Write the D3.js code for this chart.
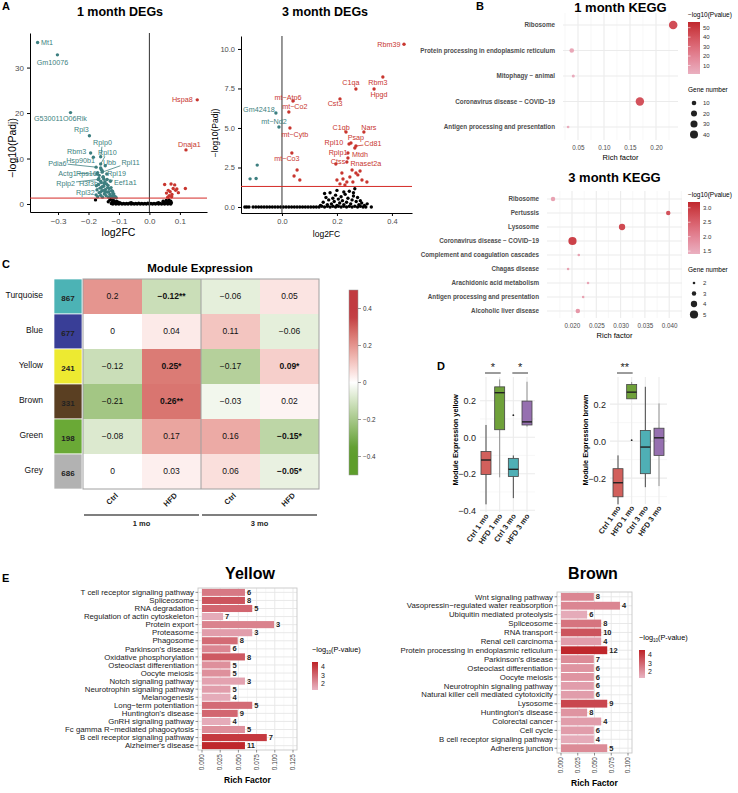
<!DOCTYPE html>
<html>
<head>
<meta charset="utf-8">
<title>Figure</title>
<script src="https://cdn.jsdelivr.net/npm/d3@7/dist/d3.min.js"></script>
<style>
  body { margin: 0; background: #fff; }
  svg text { font-family: "Liberation Sans", Arial, Helvetica, sans-serif; }
</style>
</head>
<body>
<div id="figure"></div>
<script>
// ---------------- data ----------------
// A: volcano plots, [log2FC, -log10(Padj)]
var deg1Genes = [
    {gene: "Mt1", fc: -0.367, p: 35.5},
    {gene: "Gm10076", fc: -0.302, p: 32.8},
    {gene: "G530011O06Rik", fc: -0.259, p: 20.1},
    {gene: "Rpl3", fc: -0.197, p: 15.0},
    {gene: "Rbm3", fc: -0.193, p: 11.2},
    {gene: "Rplp0", fc: -0.16, p: 10.4},
    {gene: "Hsp90b1", fc: -0.184, p: 10.3},
    {gene: "Rpl10", fc: -0.16, p: 8.8},
    {gene: "Pdia6", fc: -0.175, p: 8.1},
    {gene: "Ubb", fc: -0.158, p: 7.6},
    {gene: "Rpl11", fc: -0.155, p: 7.0},
    {gene: "Actg1", fc: -0.172, p: 6.6},
    {gene: "Rps16", fc: -0.165, p: 6.3},
    {gene: "Rpl19", fc: -0.152, p: 6.0},
    {gene: "Rplp2", fc: -0.168, p: 5.4},
    {gene: "H3f3b", fc: -0.16, p: 5.0},
    {gene: "Eef1a1", fc: -0.15, p: 5.5},
    {gene: "Rpl32", fc: -0.158, p: 3.6},
    {gene: "Hspa8", fc: 0.157, p: 22.9},
    {gene: "Dnaja1", fc: 0.12, p: 11.9}
];
// where the repelled labels sit (same units)
var deg1LabelAt = {
    Mt1: [-0.336, 35.6], Gm10076: [-0.318, 31.2], G530011O06Rik: [-0.292, 18.9], Rpl3: [-0.223, 16.3],
    Rplp0: [-0.154, 13.6], Rbm3: [-0.239, 11.6], Rpl10: [-0.138, 11.4], Hsp90b1: [-0.226, 9.5],
    Pdia6: [-0.302, 9.0], Ubb: [-0.131, 9.2], Rpl11: [-0.062, 9.2], Actg1: [-0.269, 6.8],
    Rps16: [-0.207, 6.8], Rpl19: [-0.108, 6.8], Rplp2: [-0.275, 4.6], H3f3b: [-0.2, 4.6],
    Eef1a1: [-0.079, 4.8], Rpl32: [-0.21, 2.6], Hspa8: [0.108, 22.9], Dnaja1: [0.131, 13.0]
};
var deg1Down = [[-0.175,2.0],[-0.172,3.1],[-0.17,1.6],[-0.167,4.3],[-0.165,2.5],[-0.162,3.5],[-0.16,1.9],[-0.158,4.7],
    [-0.156,2.9],[-0.154,1.5],[-0.152,5.9],[-0.15,3.9],[-0.148,2.2],[-0.146,4.9],[-0.144,3.2],[-0.142,1.8],[-0.14,6.6],
    [-0.138,2.6],[-0.136,4.1],[-0.134,1.5],[-0.132,3.4],[-0.13,2.1],[-0.128,5.0],[-0.126,1.7],[-0.124,2.9],[-0.122,1.5],
    [-0.12,2.3],[-0.118,1.9],[-0.115,1.4],[-0.112,1.6],[-0.109,1.4],[-0.155,7.3],[-0.16,7.9],[-0.145,8.4],[-0.166,5.6],
    [-0.17,6.9],[-0.174,4.0],[-0.15,3.0],[-0.145,2.6],[-0.141,4.4],[-0.137,3.6],[-0.133,2.7],[-0.155,3.8],[-0.149,4.5],
    [-0.161,2.6],[-0.139,5.4],[-0.126,3.6],[-0.121,2.8],[-0.117,2.2]];
var deg1Up = [[0.05,4.3],[0.056,2.4],[0.062,3.0],[0.065,1.8],[0.068,2.7],[0.071,4.4],[0.074,2.1],[0.078,3.4],
    [0.083,4.2],[0.086,3.0],[0.09,3.3],[0.095,2.5],[0.118,3.4],[0.06,1.5],[0.073,1.6]];
var deg1Ns = [[-0.125,0.1],[-0.12,0.0],[-0.115,0.2],[-0.11,0.0],[-0.105,0.1],[-0.1,0.0],[-0.095,0.2],[-0.09,0.0],
    [-0.085,0.1],[-0.08,0.0],[-0.075,0.1],[-0.07,0.0],[-0.065,0.2],[-0.06,0.0],[-0.055,0.1],[-0.05,0.0],[-0.045,0.1],
    [-0.04,0.0],[-0.035,0.2],[-0.03,0.0],[-0.025,0.1],[-0.02,0.0],[-0.015,0.1],[-0.01,0.0],[-0.005,0.2],[0.0,0.0],
    [0.005,0.1],[0.01,0.0],[0.015,0.1],[0.02,0.0],[0.025,0.2],[0.03,0.0],[0.035,0.1],[0.04,0.0],[0.045,0.1],[0.05,0.0],
    [0.055,0.2],[0.06,0.0],[0.065,0.1],[0.07,0.0],[-0.177,0.9],[-0.135,0.5],[-0.13,0.9],[-0.125,1.1],[-0.122,0.5],
    [-0.118,0.8],[-0.113,0.35],[-0.108,0.6],[-0.102,0.4],[-0.097,0.25],[0.045,0.6],[0.05,0.35],[0.055,0.8],[0.06,0.5],
    [0.064,0.9],[0.067,0.3],[0.07,0.6],[0.072,0.25],[0.03,0.3],[-0.06,0.3]];

var deg3Genes = [
    {gene: "Rbm39", fc: 0.444, p: 10.3},
    {gene: "Rbm3", fc: 0.367, p: 8.23},
    {gene: "Hpgd", fc: 0.335, p: 7.47},
    {gene: "C1qa", fc: 0.269, p: 7.47},
    {gene: "Cst3", fc: 0.211, p: 6.84},
    {gene: "mt\u2212Atp6", fc: 0.04, p: 6.71},
    {gene: "mt\u2212Co2", fc: 0.025, p: 6.01},
    {gene: "mt\u2212Cytb", fc: 0.029, p: 5.0},
    {gene: "mt\u2212Co3", fc: 0.036, p: 3.42},
    {gene: "C1qb", fc: 0.233, p: 4.75},
    {gene: "Nars", fc: 0.298, p: 4.75},
    {gene: "Psap", fc: 0.251, p: 4.05},
    {gene: "Rpl10", fc: 0.244, p: 3.99},
    {gene: "Cd81", fc: 0.269, p: 3.86},
    {gene: "Rplp1", fc: 0.24, p: 3.42},
    {gene: "Mtdh", fc: 0.265, p: 3.73},
    {gene: "Ctss", fc: 0.196, p: 2.72},
    {gene: "Rnaset2a", fc: 0.236, p: 2.85},
    {gene: "Gm42418", fc: -0.022, p: 5.95},
    {gene: "mt\u2212Nd2", fc: -0.011, p: 5.06}
];
var deg3LabelAt = {
    "Rbm39": [0.389, 10.3], "Rbm3": [0.349, 7.85], "Hpgd": [0.353, 7.09], "C1qa": [0.251, 7.85], "Cst3": [0.193, 6.52],
    "mt\u2212Atp6": [0.022, 6.96], "mt\u2212Co2": [0.047, 6.33], "mt\u2212Cytb": [0.047, 4.62], "mt\u2212Co3": [0.018, 3.04],
    "C1qb": [0.215, 5.06], "Nars": [0.316, 5.06], "Psap": [0.269, 4.37], "Rpl10": [0.189, 4.11], "Cd81": [0.331, 3.99],
    "Rplp1": [0.204, 3.48], "Mtdh": [0.284, 3.35], "Ctss": [0.204, 2.85], "Rnaset2a": [0.305, 2.78],
    "Gm42418": [-0.084, 6.2], "mt\u2212Nd2": [-0.029, 5.38]
};
var deg3Down = [[-0.09,2.65],[-0.116,1.78],[-0.094,1.8]];
var deg3Up = [[0.055,2.34],[0.044,1.96],[0.065,1.71],[0.2,1.71],[0.218,2.15],[0.222,1.77],[0.236,1.58],[0.247,1.9],
    [0.255,2.34],[0.269,2.15],[0.276,2.03],[0.284,2.28],[0.309,1.58],[0.24,3.1],[0.229,1.39],[0.258,1.58],[0.211,1.46],[0.291,1.71]];
var deg3Ns = [[-0.135,0],[-0.128,0],[-0.12,0],[-0.105,0],[-0.095,0],[-0.085,0],[-0.075,0],[-0.065,0],[-0.055,0],
    [-0.045,0],[-0.035,0],[-0.025,0],[-0.015,0],[-0.005,0],[0.005,0],[0.015,0],[0.025,0],[0.035,0],[0.045,0],[0.055,0],
    [0.065,0],[0.075,0],[0.085,0],[0.095,0],[0.105,0],[0.115,0],[0.125,0],[0.135,0],[0.145,0.05],[0.155,0],[0.165,0.05],
    [0.175,0],[0.185,0.05],[0.195,0],[0.205,0.05],[0.215,0],[0.225,0.05],[0.235,0],[0.245,0.05],[0.255,0],[0.265,0.05],
    [0.275,0],[0.285,0.05],[0.295,0],[0.305,0],[0.325,0],
    [0.15,0.3],[0.16,0.6],[0.165,0.15],[0.17,0.45],[0.175,0.9],[0.18,0.2],[0.185,0.55],[0.19,0.35],[0.195,0.75],[0.2,0.1],
    [0.205,0.5],[0.21,0.25],[0.215,0.65],[0.22,0.4],[0.225,0.15],[0.23,0.8],[0.235,0.3],[0.24,0.55],[0.245,1.0],[0.25,0.2],
    [0.255,0.45],[0.26,0.7],[0.265,1.15],[0.27,0.35],[0.275,0.6],[0.28,0.15],[0.285,0.4],[0.29,0.25],[0.3,0.1],[0.31,0.2],
    [0.14,0.1],[0.155,0.85],[0.2,1.05],[0.225,0.95],[0.26,0.9]];

// B: KEGG dot plots
var kegg1Terms = ["Ribosome", "Protein processing in endoplasmic reticulum", "Mitophagy \u2212 animal",
    "Coronavirus disease \u2212 COVID\u221219", "Antigen processing and presentation"];
var kegg1Rich = [0.233, 0.038, 0.041, 0.169, 0.031];
var kegg1LogP = [42, 5, 3, 40, 2];
var kegg1Genes = [46, 10, 3, 45, 2];

var kegg3Terms = ["Ribosome", "Pertussis", "Lysosome", "Coronavirus disease \u2212 COVID\u221219",
    "Complement and coagulation cascades", "Chagas disease", "Arachidonic acid metabolism",
    "Antigen processing and presentation", "Alcoholic liver disease"];
var kegg3Rich = [0.0161, 0.0398, 0.0303, 0.0201, 0.0214, 0.0192, 0.0233, 0.0223, 0.0212];
var kegg3LogP = [1.6, 2.7, 2.8, 2.9, 1.6, 1.6, 1.55, 1.6, 1.75];
var kegg3Genes = [3, 3, 4, 5, 2, 2, 2, 2, 3];

// C: module-trait heatmap
var modules = ["Turquoise", "Blue", "Yellow", "Brown", "Green", "Grey"];
var moduleSizes = [867, 677, 241, 331, 198, 686];
var moduleColors = ["#4CB3B5", "#393E97", "#EDEA31", "#5A3F22", "#6AA936", "#B2B2B2"];
var heatGroups = ["Ctrl", "HFD", "Ctrl", "HFD"];
var heatAges = ["1 mo", "3 mo"];
var moduleCorr = [
    [0.2, -0.12, -0.06, 0.05],
    [0, 0.04, 0.11, -0.06],
    [-0.12, 0.25, -0.17, 0.09],
    [-0.21, 0.26, -0.03, 0.02],
    [-0.08, 0.17, 0.16, -0.15],
    [0, 0.03, 0.06, -0.05]
];
var moduleStars = [
    ["", "**", "", ""],
    ["", "", "", ""],
    ["", "*", "", "*"],
    ["", "**", "", ""],
    ["", "", "", "*"],
    ["", "", "", "*"]
];

// D: module expression boxplots
var boxGroups = ["Ctrl 1 mo", "HFD 1 mo", "Ctrl 3 mo", "HFD 3 mo"];
var yellowBoxes = [
    {lo: -0.368, q1: -0.204, med: -0.125, q3: -0.078, hi: 0.067, out: []},
    {lo: -0.22, q1: 0.041, med: 0.244, q3: 0.276, hi: 0.317, out: []},
    {lo: -0.334, q1: -0.215, med: -0.176, q3: -0.116, hi: -0.1, out: [0.121]},
    {lo: 0.058, q1: 0.067, med: 0.084, q3: 0.198, hi: 0.304, out: []}
];
var brownBoxes = [
    {lo: -0.342, q1: -0.301, med: -0.225, q3: -0.149, hi: -0.077, out: []},
    {lo: 0.229, q1: 0.229, med: 0.265, q3: 0.306, hi: 0.32, out: [0.005]},
    {lo: -0.249, q1: -0.176, med: -0.032, q3: 0.058, hi: 0.294, out: []},
    {lo: -0.243, q1: -0.077, med: 0.018, q3: 0.07, hi: 0.204, out: []}
];
var yellowSig = [[0, 1, "*"], [2, 3, "*"]];
var brownSig = [[0, 1, "**"]];

// E: enrichment bars
var yellowTerms = ["T cell receptor signaling pathway", "Spliceosome", "RNA degradation", "Regulation of actin cytoskeleton",
    "Protein export", "Proteasome", "Phagosome", "Parkinson's disease", "Oxidative phosphorylation",
    "Osteoclast differentiation", "Oocyte meiosis", "Notch signaling pathway", "Neurotrophin signaling pathway",
    "Melanogenesis", "Long\u2212term potentiation", "Huntington's disease", "GnRH signaling pathway",
    "Fc gamma R\u2212mediated phagocytosis", "B cell receptor signaling pathway", "Alzheimer's disease"];
var yellowRich = [0.059, 0.059, 0.069, 0.029, 0.099, 0.069, 0.049, 0.039, 0.059, 0.039, 0.039, 0.059, 0.039, 0.039,
    0.069, 0.049, 0.039, 0.059, 0.089, 0.059];
var yellowCount = [6, 8, 5, 7, 3, 3, 8, 6, 8, 5, 5, 3, 5, 4, 5, 9, 4, 5, 7, 11];
var yellowLogP = [2.6, 3.4, 3.0, 1.5, 2.4, 1.8, 2.9, 2.3, 3.3, 2.1, 2.1, 1.7, 1.8, 1.5, 2.9, 3.0, 1.5, 2.1, 4.0, 4.4];

var brownTerms = ["Wnt signaling pathway", "Vasopressin\u2212regulated water reabsorption", "Ubiquitin mediated proteolysis",
    "Spliceosome", "RNA transport", "Renal cell carcinoma", "Protein processing in endoplasmic reticulum",
    "Parkinson's disease", "Osteoclast differentiation", "Oocyte meiosis", "Neurotrophin signaling pathway",
    "Natural killer cell mediated cytotoxicity", "Lysosome", "Huntington's disease", "Colorectal cancer", "Cell cycle",
    "B cell receptor signaling pathway", "Adherens junction"];
var brownRich = [0.049, 0.088, 0.039, 0.06, 0.06, 0.06, 0.069, 0.049, 0.049, 0.049, 0.049, 0.049, 0.069, 0.039, 0.06,
    0.049, 0.049, 0.069];
var brownCount = [8, 4, 6, 8, 10, 4, 12, 7, 6, 6, 6, 6, 9, 8, 4, 6, 4, 5];
var brownLogP = [2.3, 2.3, 1.5, 2.7, 3.4, 1.8, 4.4, 2.2, 2.0, 2.0, 1.8, 1.8, 3.7, 2.0, 1.8, 1.8, 1.5, 2.2];

// ---------------- drawing ----------------
var svgWidth = 738;
var svgHeight = 793;
var teal = "#3D7F80";
var red = "#C8362F";

var svg = d3.select("#figure").append("svg")
    .attr("width", svgWidth)
    .attr("height", svgHeight);
svg.append("rect").attr("width", svgWidth).attr("height", svgHeight).attr("fill", "white");
var defs = svg.append("defs");

function panelLabel(t, x, y) {
    svg.append("text").attr("x", x).attr("y", y)
        .attr("font-size", 11).attr("font-weight", "bold").text(t);
}

// vertical gradient for colour bars (bottom = low)
function addGradient(id, scale, lo, hi) {
    var grad = defs.append("linearGradient").attr("id", id)
        .attr("x1", 0).attr("y1", 1).attr("x2", 0).attr("y2", 0);
    d3.range(0, 1.0001, 0.05).forEach(function(t) {
        grad.append("stop").attr("offset", t).attr("stop-color", scale(lo + t * (hi - lo)));
    });
}

// label box edge toward a point (for repel segments)
function edgePoint(b, px, py) {
    var cx = b.x + b.width / 2, cy = b.y + b.height / 2;
    var dx = px - cx, dy = py - cy;
    var tx = dx !== 0 ? (b.width / 2 + 1) / Math.abs(dx) : Infinity;
    var ty = dy !== 0 ? (b.height / 2) / Math.abs(dy) : Infinity;
    var t = Math.min(tx, ty);
    if (t >= 1) return null;
    return [cx + dx * t, cy + dy * t];
}

function drawVolcano(cfg) {
    var x = d3.scaleLinear().domain(cfg.xDomain).range([cfg.left, cfg.right]);
    var y = d3.scaleLinear().domain(cfg.yDomain).range([cfg.bottom, cfg.top]);
    var g = svg.append("g");

    g.append("text")
        .attr("x", cfg.titleX).attr("y", 16)
        .attr("text-anchor", "middle")
        .attr("font-size", 12.5).attr("font-weight", "bold")
        .text(cfg.title);

    var xAxis = g.append("g")
        .attr("transform", `translate(0, ${cfg.bottom})`)
        .call(d3.axisBottom(x).tickValues(cfg.xTicks).tickFormat(cfg.xFormat).tickSize(3).tickSizeOuter(0));
    var yAxis = g.append("g")
        .attr("transform", `translate(${cfg.left}, 0)`)
        .call(d3.axisLeft(y).tickValues(cfg.yTicks).tickFormat(cfg.yFormat).tickSize(3).tickSizeOuter(0));
    [xAxis, yAxis].forEach(function(a) {
        a.attr("font-size", cfg.tickFont);
        a.select(".domain").attr("stroke", "#000").attr("stroke-width", 1);
        a.selectAll(".tick line").attr("stroke", "#000");
        a.selectAll(".tick text").attr("fill", "#4D4D4D");
    });

    g.append("text")
        .attr("x", (cfg.left + cfg.right) / 2).attr("y", cfg.bottom + 24)
        .attr("text-anchor", "middle").attr("font-size", cfg.titleFont)
        .text("log2FC");
    g.append("text")
        .attr("transform", `translate(${cfg.yTitleX}, ${cfg.yTitleY}) rotate(-90)`)
        .attr("text-anchor", "middle").attr("dy", "0.35em").attr("font-size", cfg.titleFont)
        .text("\u2212log10(Padj)");

    function dots(data, colorOf) {
        g.append("g").selectAll("circle")
            .data(data)
            .enter()
            .append("circle")
            .attr("cx", d => x(d[0]))
            .attr("cy", d => y(d[1]))
            .attr("r", 1.7)
            .attr("fill", colorOf);
    }
    dots(cfg.ns, "#000");
    dots(cfg.down, teal);
    dots(cfg.up, red);
    dots(cfg.genes.map(d => [d.fc, d.p]), d => d[0] < 0 ? teal : red);

    // reference lines
    g.append("line")
        .attr("x1", x(0)).attr("x2", x(0)).attr("y1", cfg.top).attr("y2", cfg.bottom)
        .attr("stroke", "#444").attr("stroke-width", 1.1);
    g.append("line")
        .attr("x1", cfg.left).attr("x2", cfg.right).attr("y1", y(1.3)).attr("y2", y(1.3))
        .attr("stroke", "#D42A26").attr("stroke-width", 1);

    // labels
    cfg.genes.forEach(function(d) {
        var pos = cfg.labelAt[d.gene];
        var color = d.fc < 0 ? teal : red;
        var t = g.append("text")
            .attr("x", x(pos[0])).attr("y", y(pos[1]))
            .attr("dy", "0.35em")
            .attr("text-anchor", "middle")
            .attr("font-size", 7.2)
            .attr("fill", color)
            .text(d.gene);
        var b = t.node().getBBox();
        var px = x(d.fc), py = y(d.p);
        var e = edgePoint(b, px, py);
        if (e && Math.hypot(e[0] - px, e[1] - py) > 5) {
            g.insert("line", "text")
                .attr("x1", e[0]).attr("y1", e[1]).attr("x2", px).attr("y2", py)
                .attr("stroke", color).attr("stroke-width", 0.8);
        }
    });
}

drawVolcano({
    title: "1 month DEGs", titleX: 120,
    left: 30, right: 207, top: 33, bottom: 212,
    xDomain: [-0.392, 0.189], yDomain: [-1.76, 37.6],
    xTicks: [-0.3, -0.2, -0.1, 0, 0.1], xFormat: d3.format(".1f"),
    yTicks: [0, 10, 20, 30], yFormat: d3.format("d"),
    tickFont: 8, titleFont: 10.5, yTitleX: 12, yTitleY: 148,
    ns: deg1Ns, down: deg1Down, up: deg1Up, genes: deg1Genes, labelAt: deg1LabelAt
});
drawVolcano({
    title: "3 month DEGs", titleX: 325,
    left: 241, right: 412, top: 36, bottom: 213,
    xDomain: [-0.149, 0.473], yDomain: [-0.38, 10.82],
    xTicks: [0, 0.2, 0.4], xFormat: d3.format(".1f"),
    yTicks: [0, 2.5, 5, 7.5, 10], yFormat: d3.format(".1f"),
    tickFont: 7.5, titleFont: 8.5, yTitleX: 215, yTitleY: 133,
    ns: deg3Ns, down: deg3Down, up: deg3Up, genes: deg3Genes, labelAt: deg3LabelAt
});

// ---- B: KEGG dot plots ----
function drawKegg(cfg) {
    var x = d3.scaleLinear().domain(cfg.xDomain).range([cfg.left, cfg.right]);
    var y = d3.scalePoint().domain(cfg.terms).range([cfg.firstRow, cfg.lastRow]);
    var color = d3.scaleLinear().domain(cfg.colorDomain).range(["#EAB0C0", "#C0272D"])
        .interpolate(d3.interpolateHcl).clamp(true);
    var g = svg.append("g");

    g.selectAll(".minor").data(cfg.minor).enter().append("line")
        .attr("x1", d => x(d)).attr("x2", d => x(d)).attr("y1", cfg.top).attr("y2", cfg.bottom)
        .attr("stroke", "#F3F3F3").attr("stroke-width", 0.7);
    g.selectAll(".major").data(cfg.ticks).enter().append("line")
        .attr("x1", d => x(d)).attr("x2", d => x(d)).attr("y1", cfg.top).attr("y2", cfg.bottom)
        .attr("stroke", "#EBEBEB").attr("stroke-width", 1.1);
    g.selectAll(".hgrid").data(cfg.terms).enter().append("line")
        .attr("x1", cfg.left).attr("x2", cfg.right).attr("y1", d => y(d)).attr("y2", d => y(d))
        .attr("stroke", "#EBEBEB").attr("stroke-width", 1.1);

    var xAxis = g.append("g")
        .attr("transform", `translate(0, ${cfg.bottom})`)
        .call(d3.axisBottom(x).tickValues(cfg.ticks).tickFormat(cfg.format).tickSize(0).tickPadding(6));
    xAxis.select(".domain").remove();
    xAxis.attr("font-size", 6.3).selectAll("text").attr("fill", "#4D4D4D");

    g.selectAll(".term").data(cfg.terms).enter().append("text")
        .attr("x", cfg.left - 8).attr("y", d => y(d)).attr("dy", "0.35em")
        .attr("text-anchor", "end").attr("font-size", 6.3).attr("font-weight", "bold")
        .attr("fill", "#4D4D4D").text(d => d);

    g.selectAll(".dot").data(cfg.terms).enter().append("circle")
        .attr("cx", (d, i) => x(cfg.rich[i]))
        .attr("cy", d => y(d))
        .attr("r", (d, i) => cfg.size(cfg.genes[i]))
        .attr("fill", (d, i) => color(cfg.logp[i]));

    g.append("text").attr("x", (cfg.left + cfg.right) / 2).attr("y", cfg.bottom + 20)
        .attr("text-anchor", "middle").attr("font-size", 7.5).text("Rich factor");
    g.append("text").attr("x", (cfg.left + cfg.right) / 2).attr("y", cfg.titleY)
        .attr("text-anchor", "middle").attr("font-size", 13).attr("font-weight", "bold").text(cfg.title);

    // colour legend
    var lx = 688;
    g.append("text").attr("x", lx).attr("y", cfg.legendTop - 5).attr("font-size", 6.5).text("\u2212log10(Pvalue)");
    addGradient(cfg.id, color, cfg.colorDomain[0], cfg.colorDomain[1]);
    var cy = d3.scaleLinear().domain(cfg.colorDomain).range([cfg.legendTop + 52, cfg.legendTop]);
    g.append("rect").attr("x", lx).attr("y", cfg.legendTop).attr("width", 12).attr("height", 52)
        .attr("fill", `url(#${cfg.id})`);
    g.selectAll(".ctick").data(cfg.colorTicks).enter().append("text")
        .attr("x", lx + 15).attr("y", d => cy(d)).attr("dy", "0.35em")
        .attr("font-size", 6).attr("fill", "#333").text(cfg.colorFormat);
    g.selectAll(".cline").data(cfg.colorTicks).enter().append("line")
        .attr("x1", lx).attr("x2", lx + 2.5).attr("y1", d => cy(d)).attr("y2", d => cy(d))
        .attr("stroke", "white").attr("stroke-width", 0.6);

    // size legend
    var sTop = cfg.legendTop + 70;
    g.append("text").attr("x", lx).attr("y", sTop).attr("font-size", 6.5).text("Gene number");
    g.selectAll(".sdot").data(cfg.sizeTicks).enter().append("circle")
        .attr("cx", lx + 6).attr("cy", (d, i) => sTop + 11 + i * 10.5)
        .attr("r", d => cfg.size(d)).attr("fill", "#222");
    g.selectAll(".slab").data(cfg.sizeTicks).enter().append("text")
        .attr("x", lx + 15).attr("y", (d, i) => sTop + 11 + i * 10.5).attr("dy", "0.35em")
        .attr("font-size", 6).attr("fill", "#333").text(d => d);
}

drawKegg({
    id: "kegg1", title: "1 month KEGG", titleY: 12,
    terms: kegg1Terms, rich: kegg1Rich, logp: kegg1LogP, genes: kegg1Genes,
    left: 563, right: 678, top: 13, bottom: 140, firstRow: 25, lastRow: 127,
    xDomain: [0.0212, 0.2423], ticks: [0.05, 0.1, 0.15, 0.2], minor: [0.025, 0.075, 0.125, 0.175, 0.225],
    format: d3.format(".2f"),
    colorDomain: [1, 56], colorTicks: [10, 20, 30, 40, 50], colorFormat: d3.format("d"), legendTop: 22,
    size: d3.scaleSqrt().domain([0, 50]).range([0.6, 4.4]), sizeTicks: [10, 20, 30, 40]
});
drawKegg({
    id: "kegg3", title: "3 month KEGG", titleY: 182,
    terms: kegg3Terms, rich: kegg3Rich, logp: kegg3LogP, genes: kegg3Genes,
    left: 547, right: 682, top: 191, bottom: 318, firstRow: 199, lastRow: 311,
    xDomain: [0.01486, 0.04263], ticks: [0.02, 0.025, 0.03, 0.035, 0.04],
    minor: [0.0175, 0.0225, 0.0275, 0.0325, 0.0375, 0.0425], format: d3.format(".3f"),
    colorDomain: [1.4, 3.2], colorTicks: [1.5, 2.0, 2.5, 3.0], colorFormat: d3.format(".1f"), legendTop: 202,
    size: d3.scaleLinear().domain([2, 5]).range([1.3, 4.1]), sizeTicks: [2, 3, 4, 5]
});

// ---- C: heatmap ----
function drawHeatmap() {
    var g = svg.append("g");
    var cols = d3.scaleBand().domain(d3.range(heatGroups.length)).range([83, 319]);
    var rows = d3.scaleBand().domain(modules).range([279, 489]);
    var heat = d3.scaleLinear().domain([-0.36, 0, 0.36])
        .range(["#5E9D2B", "#FFFFFF", "#C13A40"]).interpolate(d3.interpolateLab).clamp(true);

    g.append("text").attr("x", 200).attr("y", 272).attr("text-anchor", "middle")
        .attr("font-size", 11.5).attr("font-weight", "bold").text("Module Expression");

    // module size column
    g.selectAll(".mod").data(modules).enter().append("rect")
        .attr("x", 54).attr("width", 28).attr("y", d => rows(d)).attr("height", rows.bandwidth())
        .attr("fill", (d, i) => moduleColors[i]).attr("stroke", "white").attr("stroke-width", 0.7);
    g.selectAll(".modn").data(modules).enter().append("text")
        .attr("x", 68).attr("y", d => rows(d) + rows.bandwidth() / 2 + 2).attr("dy", "0.35em")
        .attr("text-anchor", "middle").attr("font-size", 8).attr("font-weight", "bold").attr("fill", "#222")
        .text((d, i) => moduleSizes[i]);
    g.selectAll(".modl").data(modules).enter().append("text")
        .attr("x", 43).attr("y", d => rows(d) + rows.bandwidth() / 2 - 1).attr("dy", "0.35em")
        .attr("text-anchor", "end").attr("font-size", 8.5).attr("fill", "#111").text(d => d);

    modules.forEach(function(m, r) {
        moduleCorr[r].forEach(function(v, c) {
            g.append("rect")
                .attr("x", cols(c)).attr("y", rows(m)).attr("width", cols.bandwidth()).attr("height", rows.bandwidth())
                .attr("fill", heat(v));
            var star = moduleStars[r][c];
            g.append("text")
                .attr("x", cols(c) + cols.bandwidth() / 2).attr("y", rows(m) + rows.bandwidth() / 2)
                .attr("dy", "0.35em").attr("text-anchor", "middle").attr("font-size", 8.5)
                .attr("font-weight", star ? "bold" : "normal").attr("fill", "#111")
                .text((v === 0 ? "0" : d3.format("~g")(v)) + star);
        });
    });
    g.append("rect").attr("x", 83).attr("y", 279).attr("width", 236).attr("height", 210)
        .attr("fill", "none").attr("stroke", "#A0A0A0").attr("stroke-width", 1);
    g.append("line").attr("x1", cols(2)).attr("x2", cols(2)).attr("y1", 279).attr("y2", 489)
        .attr("stroke", "#A0A0A0").attr("stroke-width", 1);

    g.selectAll(".grp").data(heatGroups).enter().append("text")
        .attr("transform", (d, i) => `translate(${cols(i) + cols.bandwidth() / 2 + 6}, 496) rotate(-45)`)
        .attr("text-anchor", "end").attr("font-size", 7.5).attr("font-weight", "bold").attr("fill", "#222")
        .text(d => d);
    heatAges.forEach(function(a, i) {
        var x0 = cols(i * 2) + 1, x1 = cols(i * 2 + 1) + cols.bandwidth() - 2;
        g.append("line").attr("x1", x0).attr("x2", x1).attr("y1", 515).attr("y2", 515)
            .attr("stroke", "#555").attr("stroke-width", 1.4);
        g.append("text").attr("x", (x0 + x1) / 2).attr("y", 526).attr("text-anchor", "middle")
            .attr("font-size", 7.5).attr("font-weight", "bold").attr("fill", "#222").text(a);
    });

    // colour bar
    var cb = d3.scaleLinear().domain([-0.5, 0.5]).range([475, 290]);
    addGradient("heatbar", heat, -0.5, 0.5);
    g.append("rect").attr("x", 349).attr("y", 290).attr("width", 9).attr("height", 185)
        .attr("fill", "url(#heatbar)").attr("stroke", "#999").attr("stroke-width", 0.5);
    var cticks = [0.4, 0.2, 0, -0.2, -0.4];
    g.selectAll(".cbt").data(cticks).enter().append("line")
        .attr("x1", 358).attr("x2", 361).attr("y1", d => cb(d)).attr("y2", d => cb(d))
        .attr("stroke", "#555").attr("stroke-width", 0.6);
    g.selectAll(".cbl").data(cticks).enter().append("text")
        .attr("x", 363).attr("y", d => cb(d)).attr("dy", "0.35em")
        .attr("font-size", 6.3).attr("fill", "#333").text(d => d === 0 ? "0" : d3.format("~g")(d));
}
drawHeatmap();

// ---- D: boxplots ----
var boxFill = ["#D2605C", "#6FA13A", "#4FAFB5", "#9670B0"];
var whiskerColor = ["#333", "#888", "#333", "#888"];

function drawBoxes(cfg) {
    var x = d3.scalePoint().domain(boxGroups).range([cfg.firstX, cfg.lastX]);
    var y = d3.scaleLinear().domain(cfg.yDomain).range([cfg.bottom, cfg.top]);
    var g = svg.append("g");

    g.selectAll(".mn").data(cfg.minor).enter().append("line")
        .attr("x1", cfg.left).attr("x2", cfg.right).attr("y1", d => y(d)).attr("y2", d => y(d))
        .attr("stroke", "#F3F3F3").attr("stroke-width", 0.7);
    g.selectAll(".mj").data(cfg.ticks).enter().append("line")
        .attr("x1", cfg.left).attr("x2", cfg.right).attr("y1", d => y(d)).attr("y2", d => y(d))
        .attr("stroke", "#EBEBEB").attr("stroke-width", 1.1);
    g.selectAll(".vg").data(boxGroups).enter().append("line")
        .attr("x1", d => x(d)).attr("x2", d => x(d)).attr("y1", cfg.top).attr("y2", cfg.bottom)
        .attr("stroke", "#EBEBEB").attr("stroke-width", 1.1);

    var yAxis = g.append("g")
        .attr("transform", `translate(${cfg.left}, 0)`)
        .call(d3.axisLeft(y).tickValues(cfg.ticks).tickFormat(d3.format(".1f")).tickSize(0).tickPadding(4));
    yAxis.select(".domain").remove();
    yAxis.attr("font-size", 9).selectAll("text").attr("fill", "#222");

    var bw = 10;
    cfg.stats.forEach(function(s, i) {
        var cx = x(boxGroups[i]);
        g.append("line").attr("x1", cx).attr("x2", cx).attr("y1", y(s.hi)).attr("y2", y(s.q3))
            .attr("stroke", whiskerColor[i]).attr("stroke-width", 0.9);
        g.append("line").attr("x1", cx).attr("x2", cx).attr("y1", y(s.q1)).attr("y2", y(s.lo))
            .attr("stroke", whiskerColor[i]).attr("stroke-width", 0.9);
        g.append("rect").attr("x", cx - bw / 2).attr("width", bw)
            .attr("y", y(s.q3)).attr("height", y(s.q1) - y(s.q3))
            .attr("fill", boxFill[i]).attr("stroke", "#444").attr("stroke-width", 0.8);
        g.append("line").attr("x1", cx - bw / 2).attr("x2", cx + bw / 2).attr("y1", y(s.med)).attr("y2", y(s.med))
            .attr("stroke", "#222").attr("stroke-width", 1.4);
        s.out.forEach(function(o) {
            g.append("circle").attr("cx", cx).attr("cy", y(o)).attr("r", 0.9).attr("fill", "#222");
        });
    });

    g.selectAll(".xl").data(boxGroups).enter().append("text")
        .attr("transform", d => `translate(${x(d) + 3}, ${cfg.bottom + 4}) rotate(-55)`)
        .attr("text-anchor", "end").attr("font-size", 7.5).attr("font-weight", "bold").attr("fill", "#222")
        .text(d => d);

    g.append("text")
        .attr("transform", `translate(${cfg.left - 25}, ${cfg.titleY}) rotate(-90)`)
        .attr("text-anchor", "middle").attr("dy", "0.35em")
        .attr("font-size", 7.3).attr("font-weight", "bold").text(cfg.title);

    cfg.sig.forEach(function(s) {
        var x0 = x(boxGroups[s[0]]) - 1, x1 = x(boxGroups[s[1]]) + 1;
        g.append("line").attr("x1", x0).attr("x2", x1).attr("y1", 373).attr("y2", 373)
            .attr("stroke", "#222").attr("stroke-width", 0.9);
        g.append("text").attr("x", (x0 + x1) / 2).attr("y", 371).attr("text-anchor", "middle")
            .attr("font-size", 11).attr("fill", "#222").text(s[2]);
    });
}

drawBoxes({
    title: "Module Expression yellow", titleY: 440,
    stats: yellowBoxes, sig: yellowSig,
    left: 480, right: 535, top: 377, bottom: 512, firstX: 486, lastX: 527,
    yDomain: [-0.41, 0.33], ticks: [0.2, 0, -0.2, -0.4], minor: [0.1, -0.1, -0.3]
});
drawBoxes({
    title: "Module Expression brown", titleY: 440,
    stats: brownBoxes, sig: brownSig,
    left: 610, right: 667, top: 377, bottom: 504, firstX: 618, lastX: 659,
    yDomain: [-0.34, 0.347], ticks: [0.2, 0, -0.2], minor: [0.1, -0.1, -0.3]
});

// ---- E: enrichment bars ----
function drawBars(cfg) {
    var x = d3.scaleLinear().domain(cfg.xDomain).range([cfg.x0, cfg.x1]);
    var y = d3.scaleBand().domain(cfg.terms).range([cfg.top, cfg.bottom]).paddingInner(0.12).paddingOuter(0.1);
    var color = d3.scaleLinear().domain([1.3, 4.5]).range(["#E8B4C3", "#BE2227"]).clamp(true);
    var g = svg.append("g");

    g.append("text").attr("x", cfg.titleX).attr("y", 579).attr("text-anchor", "middle")
        .attr("font-size", 16).attr("font-weight", "bold").text(cfg.title);

    g.selectAll(".mn").data(cfg.minor).enter().append("line")
        .attr("x1", d => x(d)).attr("x2", d => x(d)).attr("y1", cfg.top).attr("y2", cfg.bottom)
        .attr("stroke", "#F3F3F3").attr("stroke-width", 0.6);
    g.selectAll(".mj").data(cfg.ticks).enter().append("line")
        .attr("x1", d => x(d)).attr("x2", d => x(d)).attr("y1", cfg.top).attr("y2", cfg.bottom)
        .attr("stroke", "#E6E6E6").attr("stroke-width", 0.9);
    g.selectAll(".hg").data(cfg.terms).enter().append("line")
        .attr("x1", cfg.left).attr("x2", cfg.right)
        .attr("y1", d => y(d) + y.bandwidth() / 2).attr("y2", d => y(d) + y.bandwidth() / 2)
        .attr("stroke", "#E6E6E6").attr("stroke-width", 0.9);

    g.selectAll(".bar").data(cfg.terms).enter().append("rect")
        .attr("x", x(0)).attr("y", d => y(d))
        .attr("width", (d, i) => x(cfg.rich[i]) - x(0)).attr("height", y.bandwidth())
        .attr("fill", (d, i) => color(cfg.logp[i]));
    g.selectAll(".cnt").data(cfg.terms).enter().append("text")
        .attr("x", (d, i) => x(cfg.rich[i]) + 2).attr("y", d => y(d) + y.bandwidth() / 2).attr("dy", "0.35em")
        .attr("font-size", 7.5).attr("font-weight", "bold").attr("fill", "#222")
        .text((d, i) => cfg.count[i]);

    g.append("rect").attr("x", cfg.left).attr("y", cfg.top).attr("width", cfg.right - cfg.left)
        .attr("height", cfg.bottom - cfg.top).attr("fill", "none").attr("stroke", "#C8C8C8").attr("stroke-width", 0.9);

    g.selectAll(".term").data(cfg.terms).enter().append("text")
        .attr("x", cfg.left - 4).attr("y", d => y(d) + y.bandwidth() / 2).attr("dy", "0.35em")
        .attr("text-anchor", "end").attr("font-size", 7.8).attr("fill", "#222").text(d => d);
    g.selectAll(".yt").data(cfg.terms).enter().append("line")
        .attr("x1", cfg.left - 2.5).attr("x2", cfg.left)
        .attr("y1", d => y(d) + y.bandwidth() / 2).attr("y2", d => y(d) + y.bandwidth() / 2)
        .attr("stroke", "#444").attr("stroke-width", 0.6);
    g.selectAll(".xt").data(cfg.ticks).enter().append("line")
        .attr("x1", d => x(d)).attr("x2", d => x(d)).attr("y1", cfg.bottom).attr("y2", cfg.bottom + 2.5)
        .attr("stroke", "#444").attr("stroke-width", 0.6);
    g.selectAll(".xl").data(cfg.ticks).enter().append("text")
        .attr("transform", d => `translate(${x(d)}, ${cfg.bottom + 4}) rotate(-90)`)
        .attr("dy", "0.35em").attr("text-anchor", "end").attr("font-size", 6.5).attr("fill", "#444")
        .text(d3.format(".3f"));
    g.append("text").attr("x", (cfg.left + cfg.right) / 2).attr("y", cfg.bottom + 33)
        .attr("text-anchor", "middle").attr("font-size", 8.5).attr("font-weight", "bold").text("Rich Factor");

    // legend
    var lg = g.append("text").attr("x", cfg.legendX).attr("y", cfg.legendY).attr("font-size", 7.3);
    lg.append("tspan").text("\u2212log");
    lg.append("tspan").attr("font-size", 4.5).attr("dy", 2).text("10");
    lg.append("tspan").attr("dy", -2).text("(P-value)");
    addGradient(cfg.id, color, 1.3, 4.5);
    var cy = d3.scaleLinear().domain([1.3, 4.5]).range([cfg.legendY + 38, cfg.legendY + 10]);
    g.append("rect").attr("x", cfg.legendX).attr("y", cfg.legendY + 10).attr("width", 6).attr("height", 28)
        .attr("fill", `url(#${cfg.id})`);
    g.selectAll(".lt").data([2, 3, 4]).enter().append("text")
        .attr("x", cfg.legendX + 9).attr("y", d => cy(d)).attr("dy", "0.35em")
        .attr("font-size", 7).attr("fill", "#222").text(d => d);
}

drawBars({
    id: "ybar", title: "Yellow", titleX: 250,
    terms: yellowTerms, rich: yellowRich, count: yellowCount, logp: yellowLogP,
    left: 198, right: 297, top: 588, bottom: 750, x0: 202, x1: 293,
    xDomain: [0, 0.125], ticks: [0, 0.025, 0.05, 0.075, 0.1, 0.125],
    minor: [0.0125, 0.0375, 0.0625, 0.0875, 0.1125],
    legendX: 312, legendY: 652
});
drawBars({
    id: "bbar", title: "Brown", titleX: 593,
    terms: brownTerms, rich: brownRich, count: brownCount, logp: brownLogP,
    left: 557, right: 632, top: 592, bottom: 753, x0: 561, x1: 628,
    xDomain: [0, 0.1], ticks: [0, 0.025, 0.05, 0.075, 0.1],
    minor: [0.0125, 0.0375, 0.0625, 0.0875],
    legendX: 639, legendY: 640
});

panelLabel("A", 2, 10);
panelLabel("B", 476, 10);
panelLabel("C", 2, 268);
panelLabel("D", 437, 370);
panelLabel("E", 2, 582);
</script>
</body>
</html>
